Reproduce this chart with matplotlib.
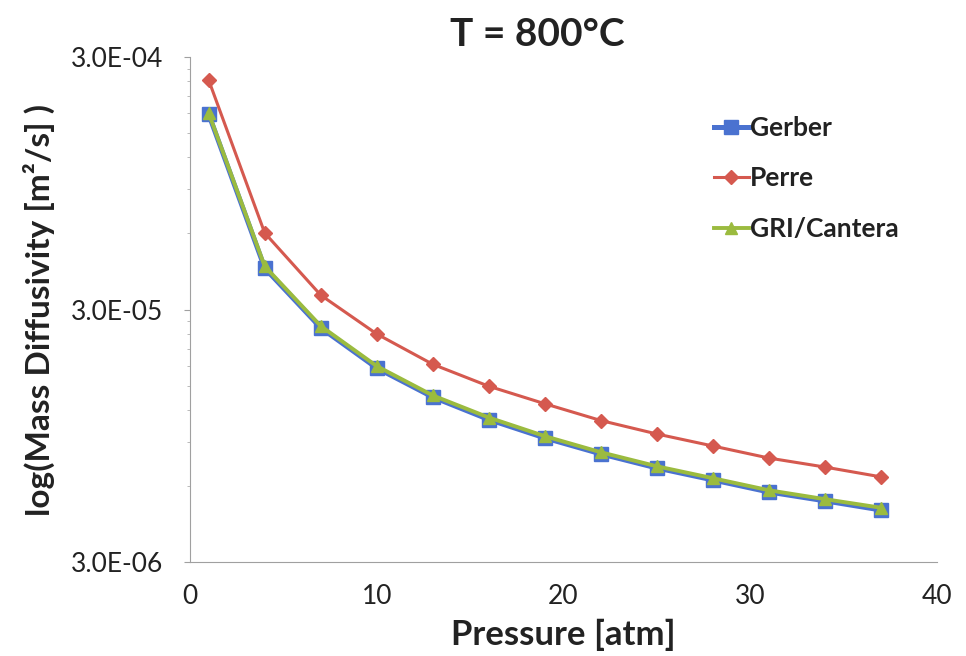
import numpy as np
import matplotlib
matplotlib.use("Agg")
import matplotlib.pyplot as plt
from matplotlib.ticker import FixedLocator, FixedFormatter

# pressure [atm]
pressure = [1, 4, 7, 10, 13, 16, 19, 22, 25, 28, 31, 34, 37]

# mass diffusivity [m2/s]
gerber = [1.78e-4, 4.38e-5, 2.54e-5, 1.76e-5, 1.35e-5, 1.10e-5, 9.3e-6,
          8.04e-6, 7.07e-6, 6.34e-6, 5.68e-6, 5.24e-6, 4.82e-6]
perre = [2.43e-4, 6.03e-5, 3.42e-5, 2.40e-5, 1.82e-5, 1.49e-5, 1.27e-5,
         1.09e-5, 9.64e-6, 8.64e-6, 7.74e-6, 7.13e-6, 6.52e-6]
gri = [1.80e-4, 4.45e-5, 2.58e-5, 1.79e-5, 1.37e-5, 1.12e-5, 9.45e-6,
       8.16e-6, 7.18e-6, 6.44e-6, 5.77e-6, 5.32e-6, 4.92e-6]

y_ticks = [3e-6, 3e-5, 3e-4]
y_tick_labels = ['3.0E-06', '3.0E-05', '3.0E-04']

plt.rcParams['font.family'] = ['Lato', 'DejaVu Sans']

fig = plt.figure(figsize=(9.66, 6.56), dpi=100)
ax = fig.add_axes([0.1967, 0.1433, 0.7733, 0.7698])

ax.plot(pressure, gerber, color='#4A72D0', lw=3.6, marker='s', ms=10,
        label='Gerber', zorder=3)
ax.plot(pressure, perre, color='#D5594F', lw=2.2, marker='D', ms=7,
        label='Perre', zorder=4)
ax.plot(pressure, gri, color='#9BBB3F', lw=2.8, marker='^', ms=9,
        label='GRI/Cantera', zorder=5)

ax.set_yscale('log')
ax.set_ylim(3e-6, 3e-4)
ax.set_xlim(0, 40)
ax.yaxis.set_major_locator(FixedLocator(y_ticks))
ax.yaxis.set_major_formatter(FixedFormatter(y_tick_labels))
minor = [3e-6 * k for k in range(2, 10)] + [3e-5 * k for k in range(2, 10)]
ax.yaxis.set_minor_locator(FixedLocator(minor))
ax.yaxis.set_minor_formatter(FixedFormatter([''] * len(minor)))
ax.set_xticks([0, 10, 20, 30, 40])

for s in ['top', 'right']:
    ax.spines[s].set_visible(False)
for s in ['left', 'bottom']:
    ax.spines[s].set_color('#A0A0A0')
    ax.spines[s].set_linewidth(0.8)
ax.tick_params(axis='both', which='major', colors='#A0A0A0', length=4,
               labelsize=19, labelcolor='#222222', direction='out')
ax.tick_params(axis='x', which='major', length=0, pad=16)
ax.tick_params(axis='y', which='major', pad=15)
ax.tick_params(axis='y', which='minor', colors='#B0B0B0', length=2)

ax.set_xlabel('Pressure [atm]', fontsize=25, fontweight='bold', labelpad=7,
              color='#222222')
ax.set_ylabel('log(Mass Diffusivity [m²/s] )', fontsize=24,
              fontweight='bold', labelpad=12, color='#222222')
ax.set_title('T = 800°C', fontsize=28, fontweight='bold', pad=8,
             color='#222222', x=0.465)

leg = ax.legend(loc='upper left', bbox_to_anchor=(0.67, 0.93), frameon=False,
                handlelength=1.3, handletextpad=0.05, labelspacing=1.0,
                prop={'weight': 'bold', 'size': 19})
for t in leg.get_texts():
    t.set_color('#222222')

fig.savefig('out.png', dpi=100, facecolor='white')
